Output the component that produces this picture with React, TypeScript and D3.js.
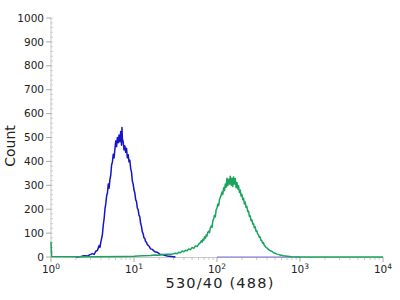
import React from "react";
import * as d3 from "d3";

// log10(fluorescence) positions and counts
const blueLog = [0.30,0.36,0.40,0.44,0.47,0.50,0.52,0.54,0.56,0.58,0.59,0.60,0.61,0.62,0.63,0.64,0.65,0.66,0.67,0.68,0.69,0.70,0.71,0.72,0.73,0.74,0.75,0.76,0.77,0.78,0.79,0.80,0.81,0.82,0.83,0.84,0.85,0.855,0.86,0.87,0.88,0.89,0.90,0.91,0.92,0.93,0.94,0.95,0.96,0.97,0.98,0.99,1.00,1.01,1.02,1.03,1.04,1.05,1.06,1.07,1.08,1.09,1.10,1.11,1.12,1.13,1.14,1.15,1.16,1.18,1.20,1.22,1.25,1.28,1.31,1.35,1.40,1.45,1.50];
const blueCount = [0,2,5,4,10,14,11,24,28,48,40,62,78,96,135,160,200,222,255,268,305,288,325,342,385,398,430,415,452,485,462,500,478,510,482,525,468,542,495,480,448,465,438,455,415,428,398,405,370,355,318,305,280,268,240,232,205,198,175,168,140,128,105,98,80,78,64,62,52,46,34,32,22,20,12,9,4,2,0];

const greenLog = [0.0,0.008,0.5,0.9,1.0,1.1,1.2,1.25,1.3,1.35,1.4,1.45,1.50,1.52,1.54,1.56,1.58,1.60,1.62,1.64,1.66,1.68,1.70,1.72,1.74,1.76,1.78,1.80,1.81,1.82,1.83,1.84,1.85,1.86,1.87,1.88,1.89,1.90,1.91,1.92,1.93,1.94,1.95,1.96,1.97,1.98,1.99,2.00,2.01,2.02,2.03,2.04,2.05,2.06,2.07,2.08,2.09,2.10,2.11,2.12,2.13,2.14,2.15,2.16,2.17,2.18,2.19,2.20,2.21,2.22,2.23,2.24,2.25,2.26,2.27,2.28,2.29,2.30,2.31,2.32,2.33,2.34,2.35,2.36,2.37,2.38,2.39,2.40,2.41,2.42,2.43,2.44,2.45,2.46,2.47,2.48,2.49,2.50,2.51,2.52,2.53,2.54,2.55,2.56,2.57,2.58,2.59,2.60,2.62,2.64,2.66,2.68,2.70,2.72,2.74,2.76,2.80,2.85,2.90,3.0,4.0];
const greenCount = [64,2,1,2,3,5,6,8,7,10,12,11,16,14,20,18,25,22,28,26,34,30,40,36,46,44,54,60,68,62,74,70,85,78,92,88,104,108,102,122,130,124,152,160,175,168,198,205,222,215,240,250,258,272,262,290,278,305,292,330,298,325,305,338,300,330,295,335,305,328,290,312,285,298,270,280,255,262,240,246,222,230,208,212,190,192,170,172,152,156,138,140,122,126,108,110,96,94,82,84,70,68,58,60,48,46,40,38,32,26,24,18,16,12,11,8,5,3,1,0,0];

const blueBaseSpan = [100, 1000];
const yTicks = [0,100,200,300,400,500,600,700,800,900,1000];
const xDecades = [0,1,2,3,4];
const xLabel = "530/40 (488)";
const yLabel = "Count";

export default function App() {
  const W = 400, H = 300;
  const x = d3.scaleLog().domain([1, 10000]).range([51, 383]);
  const y = d3.scaleLinear().domain([0, 1000]).range([257, 18]);
  const line = d3.line<[number, number]>().x(d => x(Math.pow(10, d[0]))).y(d => y(d[1]));
  const blue: [number, number][] = blueLog.map((l, i) => [l, blueCount[i]]);
  const green: [number, number][] = greenLog.map((l, i) => [l, greenCount[i]]);
  const minorY = d3.range(0, 1001, 20);
  const minorX: number[] = [];
  for (let d = 0; d < 4; d++) for (let k = 2; k < 10; k++) minorX.push(k * Math.pow(10, d));
  const font = "DejaVu Sans, Verdana, sans-serif";
  return (
    <svg width={W} height={H} style={{ position: "absolute", left: 0, top: 0, background: "#fff" }}>
      {/* y axis */}
      <line x1={51} x2={51} y1={y(1000)} y2={y(0)} stroke="#c8c8c8" strokeWidth={1} />
      {minorY.map(v => (
        <line key={"my" + v} x1={50} x2={53} y1={y(v)} y2={y(v)} stroke="#c8c8c8" strokeWidth={0.8} />
      ))}
      {yTicks.map(v => (
        <g key={"yt" + v}>
          <line x1={46} x2={51} y1={y(v)} y2={y(v)} stroke="#aaa" strokeWidth={1} />
          <text x={44} y={y(v)} dy="0.35em" textAnchor="end" fontFamily={font} fontSize={10.5} fill="#222">{v}</text>
        </g>
      ))}
      {/* x axis */}
      <line x1={51} x2={383} y1={257.5} y2={257.5} stroke="#c8c8c8" strokeWidth={1} />
      {minorX.map(v => (
        <line key={"mx" + v} x1={x(v)} x2={x(v)} y1={257} y2={260} stroke="#bbb" strokeWidth={0.8} />
      ))}
      {xDecades.map(d => (
        <g key={"xt" + d}>
          <line x1={x(Math.pow(10, d))} x2={x(Math.pow(10, d))} y1={257} y2={262} stroke="#aaa" strokeWidth={1} />
          <text x={x(Math.pow(10, d))} y={273} textAnchor="middle" fontFamily={font} fontSize={10.5} fill="#222">
            10<tspan dy={-4} fontSize={7.5}>{d}</tspan>
          </text>
        </g>
      ))}
      {/* data */}
      <path d={line(blue) || ""} fill="none" stroke="#1414c8" strokeWidth={1.5} strokeLinejoin="round" />
      <line x1={x(blueBaseSpan[0])} x2={x(blueBaseSpan[1])} y1={y(0)} y2={y(0)} stroke="#7a70dc" strokeWidth={1.2} />
      <path d={line(green) || ""} fill="none" stroke="#1ba45e" strokeWidth={1.5} strokeLinejoin="round" />
      {/* labels */}
      <text x={220} y={288} textAnchor="middle" fontFamily={font} fontSize={14.5} letterSpacing={1.2} fill="#222">{xLabel}</text>
      <text transform="translate(15,146) rotate(-90)" textAnchor="middle" fontFamily={font} fontSize={14} fill="#222">{yLabel}</text>
    </svg>
  );
}
